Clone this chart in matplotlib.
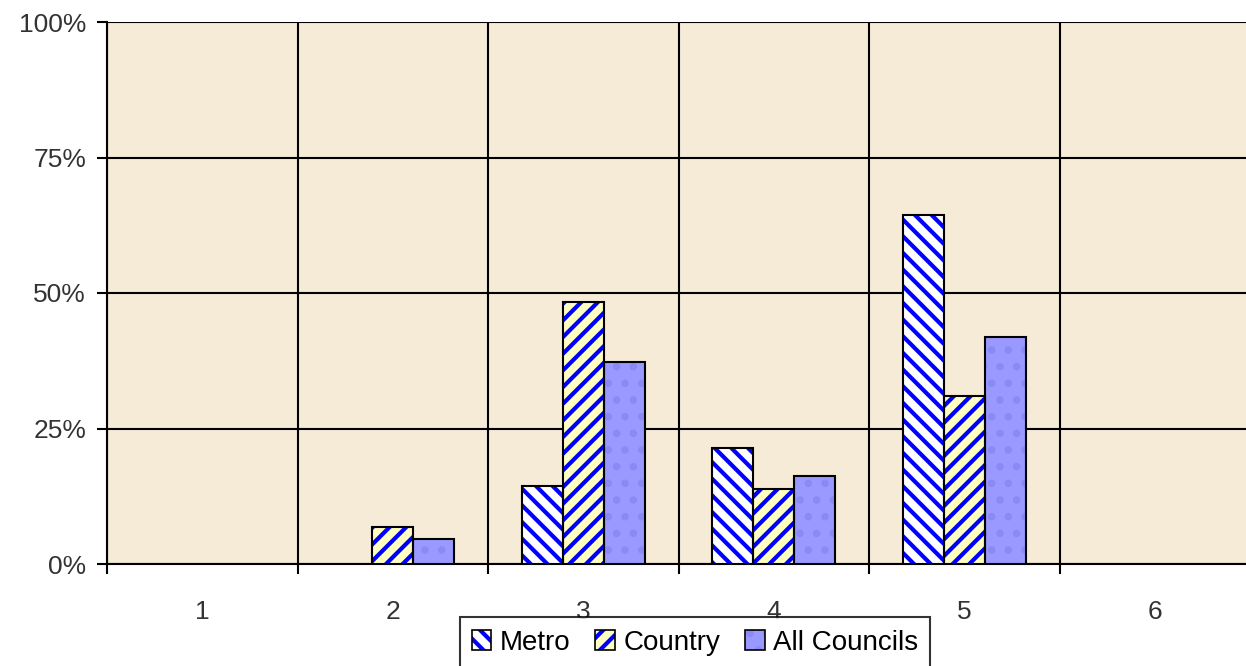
import numpy as np
import matplotlib
matplotlib.use("Agg")
import matplotlib.pyplot as plt
from matplotlib.patches import Patch

plt.rcParams['font.family'] = ['Liberation Sans', 'DejaVu Sans']

# data (share of councils in each category)
categories = ["1", "2", "3", "4", "5", "6"]
metro = [0, 0, 14.3, 21.4, 64.3, 0]
country = [0, 6.9, 48.3, 13.8, 31.0, 0]
all_councils = [0, 4.7, 37.2, 16.3, 41.9, 0]
yticks = [0, 25, 50, 75, 100]
ytick_labels = ["0%", "25%", "50%", "75%", "100%"]

fig = plt.figure(figsize=(12.46, 6.66), dpi=100)
ax = fig.add_axes([107/1246, 1-564/666, 1143/1246, 542/666])
ax.set_facecolor("#F5EBD6")

x = np.arange(len(categories))
w = 0.215
plt.rcParams['hatch.linewidth'] = 3.0

styles = [
    (metro, -w, "white", "#0000FF", "\\\\"),
    (country, 0, "#FFFFC0", "#0000FF", "//"),
    (all_councils, w, "#9999FF", "#8A8AF6", "."),
]
for vals, off, fc, hc, hatch in styles:
    v = np.array(vals)
    mask = v > 0
    ax.bar(x[mask] + off, v[mask], w, color=fc, edgecolor=hc, hatch=hatch,
           linewidth=0, zorder=3)
    ax.bar(x[mask] + off, v[mask], w, fill=False, edgecolor="black",
           linewidth=1.5, zorder=4)

ax.set_xlim(-0.5, len(categories) - 0.5)
ax.set_ylim(0, 100)
ax.set_yticks(yticks)
ax.set_yticklabels(ytick_labels, fontsize=19, color="#333333")
ax.set_xticks(x)
ax.set_xticklabels(categories, fontsize=19, color="#333333")
ax.set_xticks(np.arange(len(categories) + 1) - 0.5, minor=True)
ax.tick_params(axis="x", which="major", length=0, pad=26)
ax.tick_params(axis="x", which="minor", length=7, width=1.5)
ax.tick_params(axis="y", length=7, width=1.5, pad=8)

ax.grid(axis="y", color="black", linewidth=1.5, zorder=1)
ax.grid(axis="x", which="minor", color="black", linewidth=1.5, zorder=1)
ax.set_axisbelow(True)
for s in ["top", "right"]:
    ax.spines[s].set_visible(False)
ax.spines["left"].set_linewidth(1.5)
ax.spines["bottom"].set_linewidth(1.5)

handles = []
for vals, off, fc, hc, hatch in styles:
    inner = Patch(facecolor=fc, edgecolor=hc, hatch=hatch, linewidth=0)
    outline = Patch(fill=False, edgecolor="black", linewidth=1.2)
    handles.append((inner, outline))
leg = fig.legend(handles, ["Metro", "Country", "All Councils"], loc="upper center",
                 bbox_to_anchor=(695/1246, 1-617/666), ncol=3, fontsize=20,
                 frameon=True, fancybox=False, edgecolor="black",
                 handlelength=0.7, handleheight=0.7, handletextpad=0.3,
                 columnspacing=0.9, borderpad=0.45, borderaxespad=0)
leg.get_frame().set_linewidth(1.5)

fig.savefig("out.png", dpi=100, facecolor="white")
